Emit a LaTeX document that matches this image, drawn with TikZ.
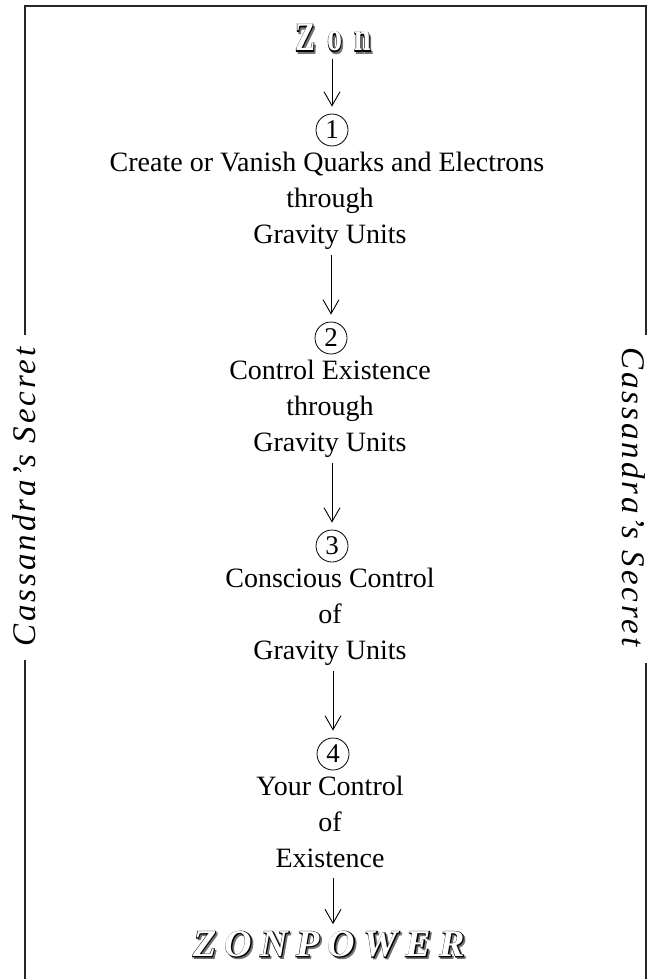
\documentclass[tikz,border=0pt]{standalone}
\usepackage{fontspec}
\setmainfont{Liberation Serif}
\usetikzlibrary{arrows.meta}
\tikzset{
  txt/.style={font=\fontsize{28}{30}\selectfont, inner sep=0pt, text height=19pt, text depth=6pt, anchor=center},
  num/.style={circle, draw, line width=0.8pt, inner sep=0pt, minimum size=32pt, font=\fontsize{27}{28}\selectfont},
  arr/.style={-{Straight Barb[length=14pt,width=16pt]}, line width=0.9pt, shorten >=7pt},
  side/.style={font=\itshape\fontsize{33}{35}\selectfont\addfontfeature{LetterSpace=9}, inner sep=0pt},
  frame/.style={line width=2.5pt, black!85},
  fancy/.style={inner sep=0pt}
}
\newcommand{\shadowtext}[1]{%
  \leavevmode\rlap{\raisebox{-1.6pt}{\hspace{1.6pt}\textcolor{black!55}{\addfontfeature{FakeBold=4}#1}}}%
  \rlap{\addfontfeature{FakeBold=4}#1}\textcolor{white}{#1}}
\begin{document}
\begin{tikzpicture}[x=1pt,y=-1pt]
\useasboundingbox (0,0) rectangle (653,979);
% frame
\draw[frame] (25,979) -- (25,660);
\draw[frame] (25,335) -- (25,6) -- (646,6) -- (646,335);
\draw[frame] (646,663) -- (646,979);
\node[side, rotate=90] (sl) at (24,497) {Cassandra’s Secret};
\node[side, rotate=-90] (sr) at (634,497) {Cassandra’s Secret};
% title
\node[fancy] (zon) at (333,39) {\scalebox{1}[1.35]{\fontsize{30}{32}\selectfont\bfseries\shadowtext{Z\hspace{12pt}o\hspace{12pt}n}}};
% step 1
\node[num] (c1) at (332,130) {1};
\node[txt] (t1a) at (327,165) {Create or Vanish Quarks and Electrons};
\node[txt] (t1b) at (330,201) {through};
\node[txt] (t1c) at (330,237) {Gravity Units};
% step 2
\node[num] (c2) at (331,338) {2};
\node[txt] (t2a) at (330,373) {Control Existence};
\node[txt] (t2b) at (330,409) {through};
\node[txt] (t2c) at (330,445) {Gravity Units};
% step 3
\node[num] (c3) at (332,546) {3};
\node[txt] (t3a) at (330,581) {Conscious Control};
\node[txt] (t3b) at (330,617) {of};
\node[txt] (t3c) at (330,653) {Gravity Units};
% step 4
\node[num] (c4) at (333,754) {4};
\node[txt] (t4a) at (330,789) {Your Control};
\node[txt] (t4b) at (330,825) {of};
\node[txt] (t4c) at (330,861) {Existence};
% final
\node[fancy] (zp) at (329,945) {\fontsize{38}{40}\selectfont\bfseries\itshape\addfontfeature{LetterSpace=22}\shadowtext{ZONPOWER}};
% arrows
\draw[arr] (c1.north |- zon.south) ++(0,5) -- (c1.north);
\draw[arr] (c2.north |- t1c.south) ++(0,5) -- (c2.north);
\draw[arr] (c3.north |- t2c.south) ++(0,5) -- (c3.north);
\draw[arr] (c4.north |- t3c.south) ++(0,5) -- (c4.north);
\draw[arr] (c4.south |- t4c.south) ++(0,4) -- (c4.south |- zp.north);
\end{tikzpicture}
\end{document}
